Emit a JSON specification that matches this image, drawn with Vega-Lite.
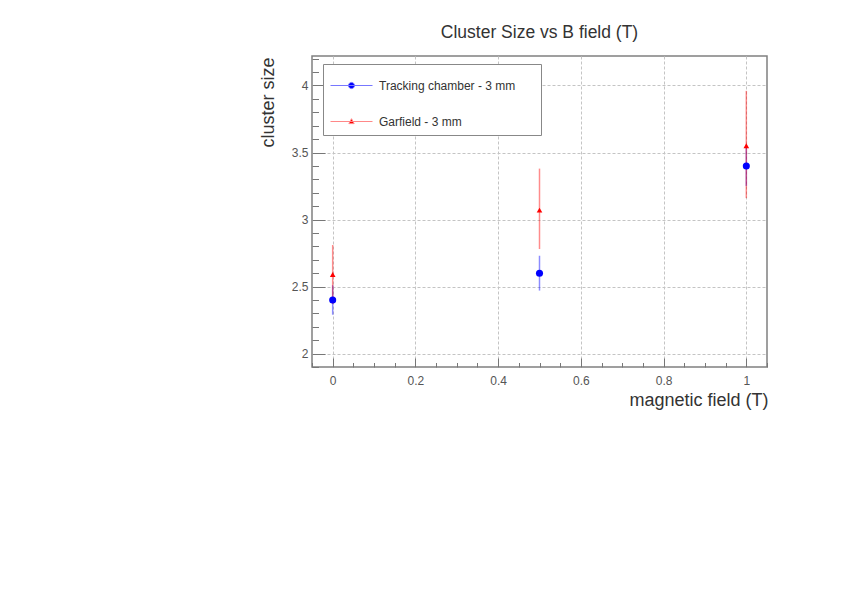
{
  "$schema": "https://vega.github.io/schema/vega-lite/v6.json",
  "width": 455,
  "height": 311,
  "autosize": {"type": "none"},
  "padding": {"left": 312, "top": 56, "right": 78, "bottom": 231},
  "background": "white",
  "title": {"text": "Cluster Size vs B field (T)", "fontSize": 17.5, "font": "Liberation Sans", "fontWeight": "normal", "color": "#333333", "offset": 15},
  "config": {
    "font": "Liberation Sans",
    "view": {"stroke": "#808080", "strokeWidth": 1.5}
  },
  "data": {"values": [
    {"B": 0, "size": 2.40, "lo": 2.29, "hi": 2.51, "series": "Tracking chamber - 3 mm"},
    {"B": 0.5, "size": 2.60, "lo": 2.47, "hi": 2.73, "series": "Tracking chamber - 3 mm"},
    {"B": 1, "size": 3.40, "lo": 3.25, "hi": 3.55, "series": "Tracking chamber - 3 mm"},
    {"B": 0, "size": 2.59, "lo": 2.37, "hi": 2.81, "series": "Garfield - 3 mm"},
    {"B": 0.5, "size": 3.07, "lo": 2.78, "hi": 3.38, "series": "Garfield - 3 mm"},
    {"B": 1, "size": 3.55, "lo": 3.16, "hi": 3.96, "series": "Garfield - 3 mm"}
  ]},
  "resolve": {"axis": {"x": "independent", "y": "independent"}},
  "layer": [
    {
      "mark": {"type": "rule", "strokeWidth": 1.5, "opacity": 0.45},
      "encoding": {
        "x": {"field": "B", "type": "quantitative",
          "scale": {"domain": [-0.05, 1.05], "nice": false, "zero": false},
          "axis": {"title": "magnetic field (T)", "values": [0, 0.2, 0.4, 0.6, 0.8, 1], "format": ".1~f",
            "grid": true, "gridDash": [3, 2], "gridColor": "#c4c4c4", "domain": false,
            "ticks": true, "tickSize": -9, "tickColor": "#777777",
            "labelFontSize": 12, "labelColor": "#555555", "labelPadding": 17,
            "titleFontSize": 18, "titleFontWeight": "normal", "titleColor": "#333333",
            "titleAlign": "right", "titleAnchor": "end", "titleX": 456, "titleY": 38, "titleBaseline": "alphabetic"}},
        "y": {"field": "lo", "type": "quantitative",
          "scale": {"domain": [1.9, 4.22], "nice": false, "zero": false},
          "axis": {"title": "cluster size", "values": [2, 2.5, 3, 3.5, 4], "format": ".1~f",
            "grid": true, "gridDash": [3, 2], "gridColor": "#c4c4c4", "domain": false,
            "ticks": true, "tickSize": -13, "tickColor": "#777777",
            "labelFontSize": 12, "labelColor": "#555555", "labelPadding": 17,
            "titleFontSize": 18, "titleFontWeight": "normal", "titleColor": "#333333",
            "titleAngle": -90, "titleAlign": "right", "titleBaseline": "middle", "titleX": -44, "titleY": 1}},
        "y2": {"field": "hi"},
        "color": {"condition": {"test": "datum.series === 'Garfield - 3 mm'", "value": "#ff0000"}, "value": "#0000ff"}
      }
    },
    {
      "mark": {"type": "point", "filled": true, "opacity": 1},
      "encoding": {
        "x": {"field": "B", "type": "quantitative", "axis": null},
        "y": {"field": "size", "type": "quantitative", "axis": null},
        "color": {"condition": {"test": "datum.series === 'Garfield - 3 mm'", "value": "#ff0000"}, "value": "#0000ff"},
        "shape": {"condition": {"test": "datum.series === 'Garfield - 3 mm'", "value": "triangle-up"}, "value": "circle"},
        "size": {"condition": {"test": "datum.series === 'Garfield - 3 mm'", "value": 32}, "value": 50}
      }
    },
    {
      "transform": [{"filter": "datum.B > 5"}],
      "mark": {"type": "point", "filled": true, "opacity": 1},
      "encoding": {
        "x": {"field": "B", "type": "quantitative", "axis": null},
        "y": {"field": "size", "type": "quantitative", "axis": null},
        "fill": {"field": "series", "type": "nominal",
          "scale": {"domain": ["Tracking chamber - 3 mm", "Garfield - 3 mm"], "range": ["#0000ff", "#ff0000"]},
          "legend": {"title": null, "orient": "none", "legendX": 11, "legendY": 8,
            "fillColor": "white", "strokeColor": "#888888",
            "padding": 7, "rowPadding": 15,
            "symbolSize": 784, "symbolStrokeWidth": 1, "symbolOffset": 7, "symbolOpacity": 1,
            "labelOffset": 13, "labelFontSize": 12, "labelColor": "#333333", "labelFont": "Liberation Sans",
            "labelLimit": 400,
            "labelExpr": "datum.label + '\u2800\u2800'"}},
        "stroke": {"field": "series", "type": "nominal",
          "scale": {"domain": ["Tracking chamber - 3 mm", "Garfield - 3 mm"], "range": ["#7777ff", "#ff8888"]},
          "legend": {"title": null}},
        "shape": {"field": "series", "type": "nominal",
          "scale": {"domain": ["Tracking chamber - 3 mm", "Garfield - 3 mm"],
            "range": ["M-1.5,0H1.5M-0.22,0A0.22,0.22,0,1,1,0.22,0A0.22,0.22,0,1,1,-0.22,0Z", "M-1.5,0H1.5M0,-0.2L0.19,0.15L-0.19,0.15Z"]},
          "legend": {"title": null}}
      }
    },
    {
      "mark": {"type": "point", "opacity": 0},
      "encoding": {
        "x": {"field": "B", "type": "quantitative",
          "axis": {"orient": "bottom", "title": null, "labels": false, "grid": false, "domain": false,
            "ticks": true, "tickSize": -4.5, "tickColor": "#777777",
            "values": [-0.05, 0.05, 0.1, 0.15, 0.25, 0.3, 0.35, 0.45, 0.5, 0.55, 0.65, 0.7, 0.75, 0.85, 0.9, 0.95, 1.05]}},
        "y": {"field": "size", "type": "quantitative",
          "axis": {"orient": "left", "title": null, "labels": false, "grid": false, "domain": false,
            "ticks": true, "tickSize": -6.5, "tickColor": "#777777",
            "values": [1.9, 2.1, 2.2, 2.3, 2.4, 2.6, 2.7, 2.8, 2.9, 3.1, 3.2, 3.3, 3.4, 3.6, 3.7, 3.8, 3.9, 4.1, 4.2]}}
      }
    }
  ]
}
